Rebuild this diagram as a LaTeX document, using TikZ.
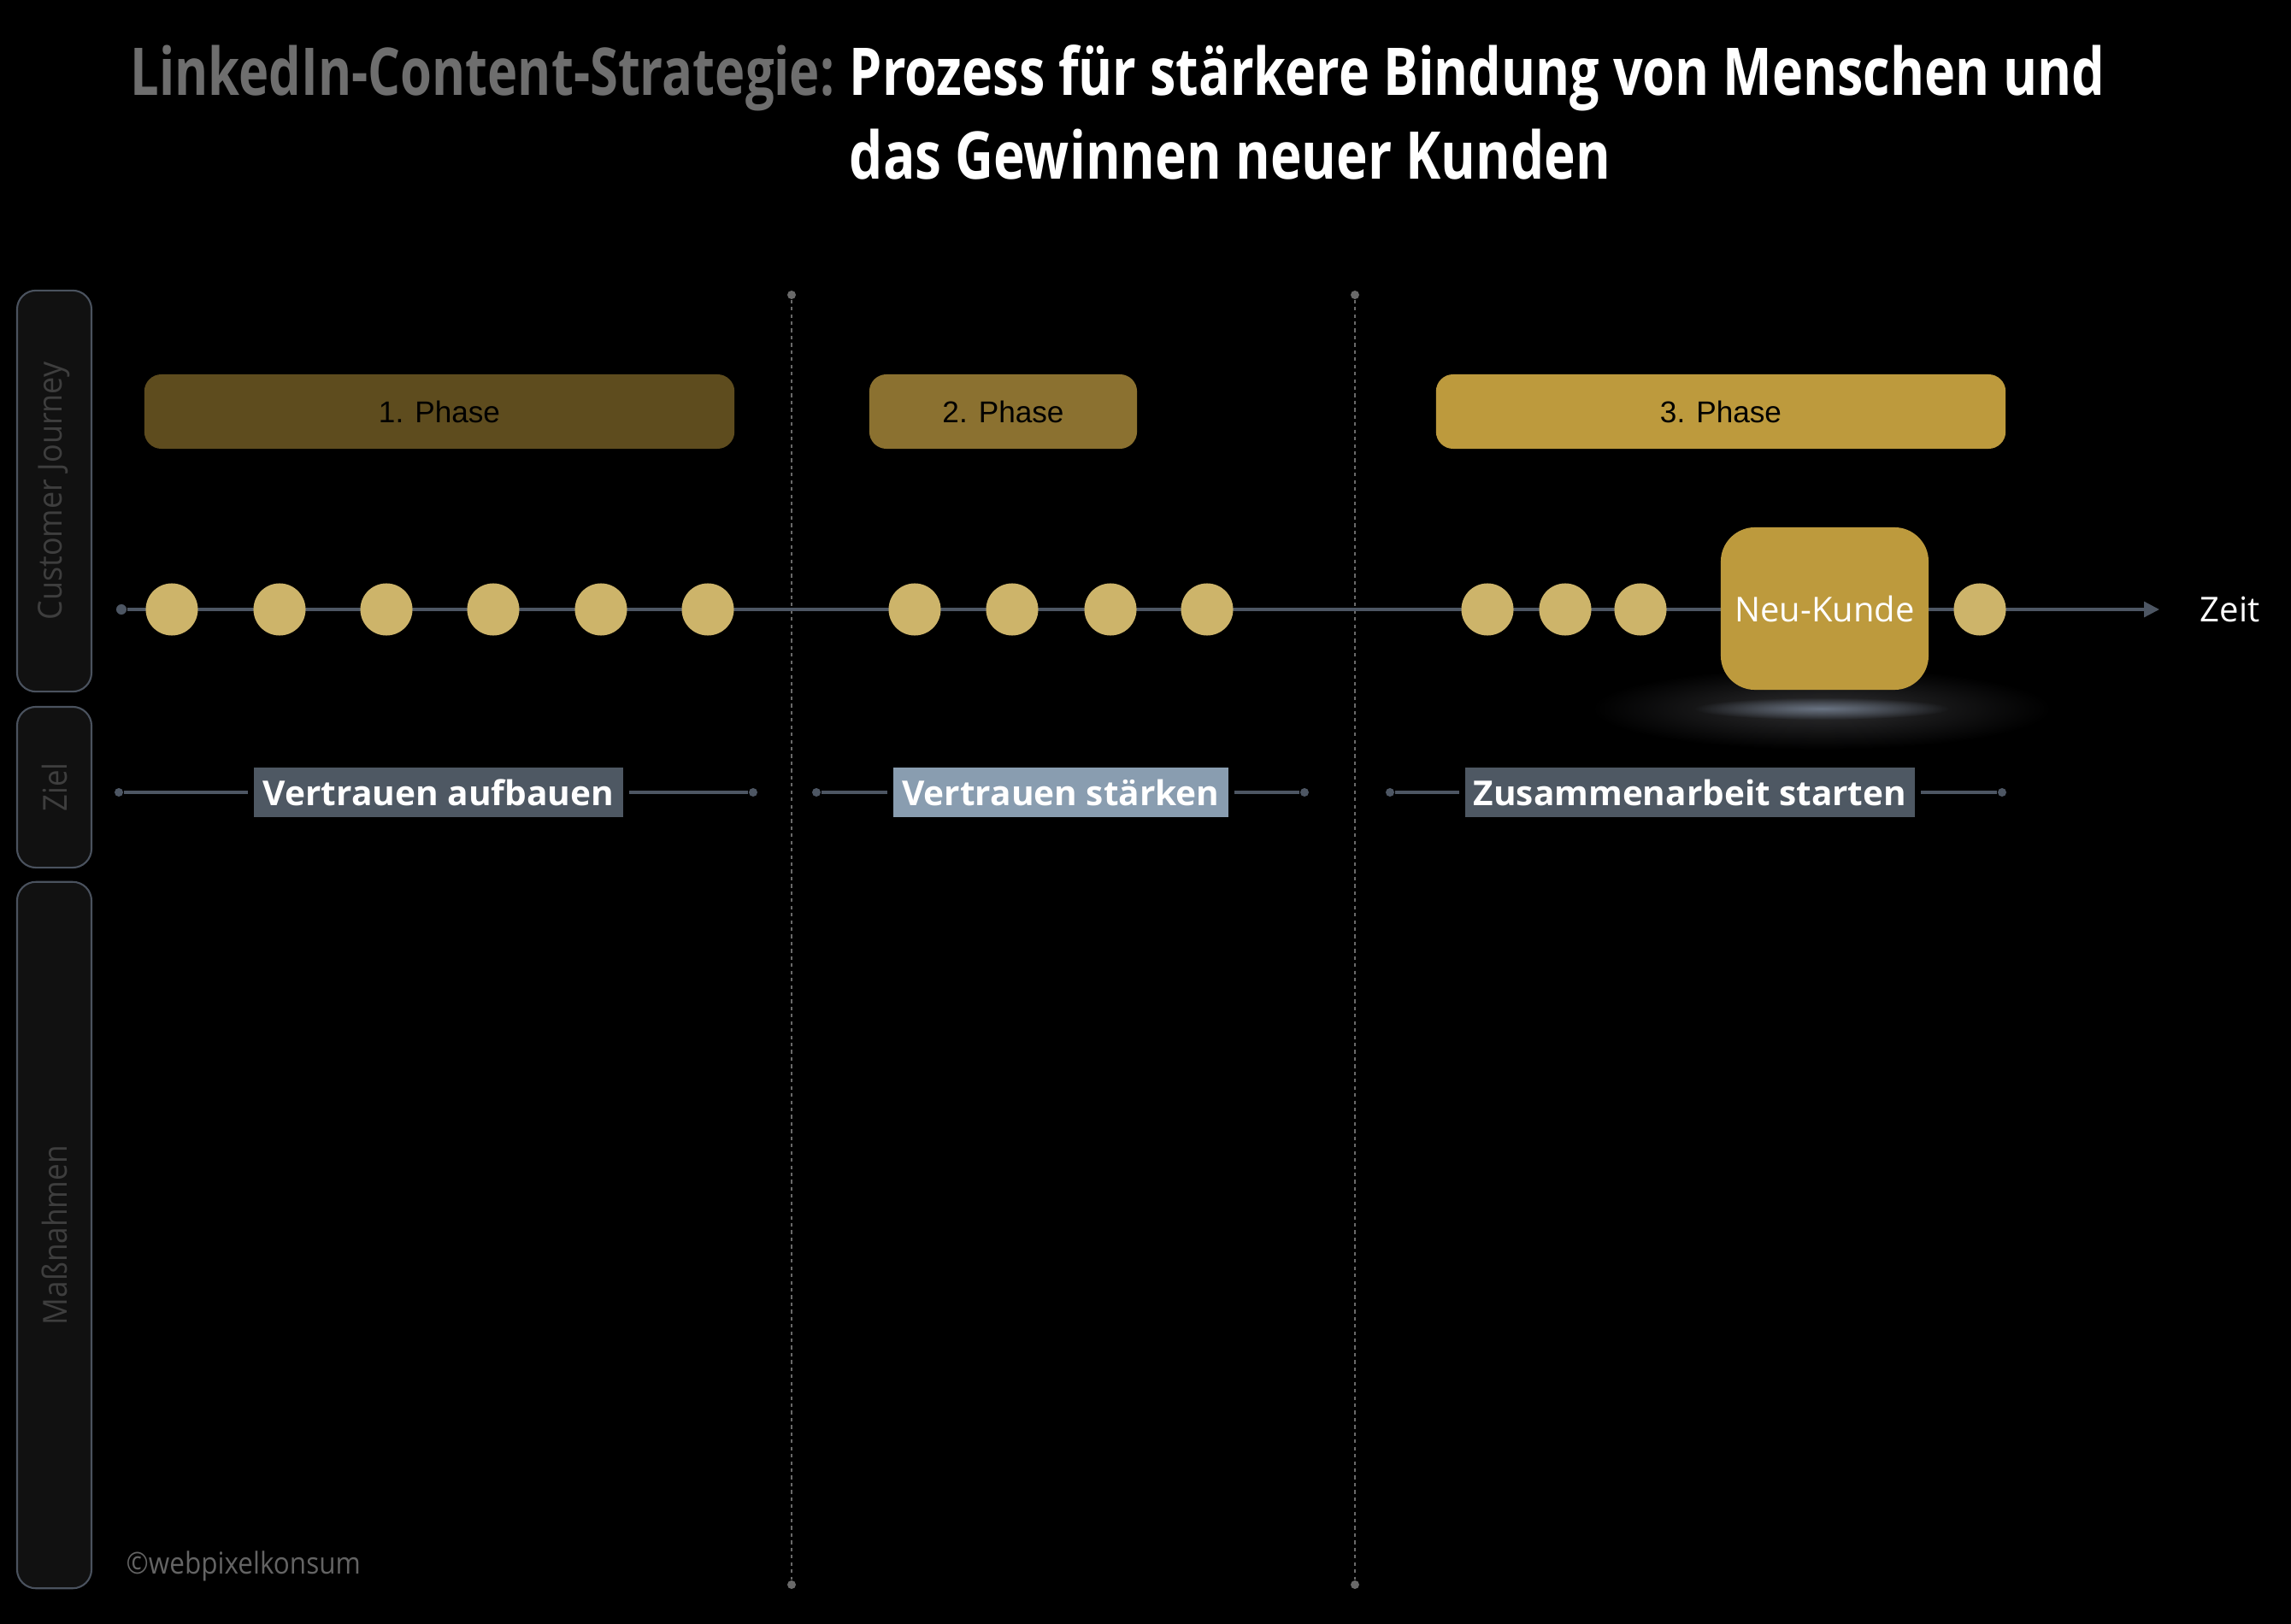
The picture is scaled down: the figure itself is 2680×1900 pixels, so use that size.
\documentclass[tikz,border=0pt]{standalone}
\usepackage{fontspec}
\usepackage{graphicx}
\setmainfont{Open Sans}
\newfontfamily\phasefont{Liberation Sans}
\usetikzlibrary{arrows.meta,fadings}
\definecolor{phaseA}{RGB}{94,76,30}
\definecolor{phaseB}{RGB}{139,113,48}
\definecolor{phaseC}{RGB}{189,154,61}
\definecolor{dotgold}{RGB}{205,180,106}
\definecolor{linegray}{RGB}{77,86,99}
\definecolor{goaldark}{RGB}{78,88,99}
\definecolor{goallight}{RGB}{137,157,176}
\definecolor{sidefill}{RGB}{17,17,17}
\definecolor{sideline}{RGB}{74,82,94}
\definecolor{sidetext}{RGB}{62,62,62}
\definecolor{vgray}{RGB}{105,105,105}
\definecolor{titlegray}{RGB}{110,110,110}
\definecolor{copygray}{RGB}{100,100,100}
\definecolor{glowgray}{RGB}{48,48,50}
\definecolor{glowblue}{RGB}{105,115,130}
\tikzfading[name=softglow,inner color=transparent!0,outer color=transparent!100]
\newcommand{\fitw}[2]{\resizebox{#1}{\height}{#2}}
\newcommand{\titlefont}{\bfseries\fontsize{21.9}{26}\selectfont}
\begin{document}
\begin{tikzpicture}[x=0.01cm,y=-0.01cm,
  phasebox/.style={rounded corners=0.2cm,minimum height=0.87cm,inner sep=0,font=\phasefont\fontsize{10}{12}\selectfont,text=black},
  stopdot/.style={circle,fill=dotgold,minimum size=0.61cm,inner sep=0},
  sidebox/.style={draw=sideline,line width=0.6pt,fill=sidefill,rounded corners=0.22cm,rotate=90,minimum height=0.87cm,inner sep=0,text=sidetext,font=\fontsize{11}{12}\selectfont},
  goalbox/.style={fill=goaldark,text=white,minimum height=0.57cm,inner sep=0,font=\bfseries\fontsize{11.4}{13}\selectfont},
  endpin/.style={circle,fill=linegray,inner sep=0,minimum size=0.1cm},
  tl/.style={linegray,line width=0.9pt}]
\fill[black] (0,0) rectangle (2680,1900);
% title
\node[anchor=base west,inner sep=0,text=titlegray,font=\titlefont] (tg) at (152,112) {\fitw{8.23cm}{LinkedIn-Content-Strategie:}};
\node[anchor=base west,inner sep=0,text=white,font=\titlefont] (tw1) at (993,112) {\fitw{14.68cm}{Prozess für stärkere Bindung von Menschen und}};
\node[anchor=base west,inner sep=0,text=white,font=\titlefont] (tw2) at (993,210) {\fitw{8.90cm}{das Gewinnen neuer Kunden}};
% rows
\node[sidebox,minimum width=4.69cm] (cj) at (63.5,574.5) {\fitw{3.02cm}{Customer Journey}};
\node[sidebox,minimum width=1.88cm] (zl) at (63.5,921) {\fitw{0.57cm}{Ziel}};
\node[sidebox,minimum width=8.26cm] (mn) at (63.5,1445) {\fitw{2.10cm}{Maßnahmen}};
% phase borders
\foreach \n/\x in {v1/926,v2/1585}{\node[endpin,fill=vgray] (\n t) at (\x,345){};\node[endpin,fill=vgray] (\n b) at (\x,1854){};\draw[vgray,line width=0.5pt,dash pattern=on 1.2pt off 1.2pt] (\n t) -- (\n b);}
\node[phasebox,fill=phaseA,minimum width=6.90cm] (p1) at (514,481.5) {1. Phase};
\node[phasebox,fill=phaseB,minimum width=3.13cm] (p2) at (1173.5,481.5) {2. Phase};
\node[phasebox,fill=phaseC,minimum width=6.66cm] (p3) at (2013,481.5) {3. Phase};
% time line
\node[endpin,minimum size=0.12cm] (t0) at (142,713){};
\coordinate (t1) at (2526,713);
\draw[tl,-{Triangle[length=0.18cm,width=0.18cm]}] (t0) -- (t1);
\node[anchor=west,inner sep=0,text=white,font=\fontsize{11.4}{13}\selectfont] (zeit) at (2573,713) {Zeit};
\foreach \n/\x in {a1/201,a2/327,a3/452,a4/577,a5/703,a6/828,b1/1070,b2/1184,b3/1299,b4/1412,c1/1740,c2/1831,c3/1919,c4/2316}{\node[stopdot] (\n) at (\x,713){};}
\fill[glowgray,path fading=softglow] (2131,829) ellipse (270 and 48);
\fill[glowblue,path fading=softglow] (2131,829) ellipse (150 and 13);
\node[fill=phaseC,rounded corners=0.4cm,minimum width=2.43cm,minimum height=1.9cm,inner sep=0,text=white,font=\fontsize{11.4}{13}\selectfont] (nk) at (2134.5,712) {\fitw{2.10cm}{Neu-Kunde}};
% goals
\node[goalbox,minimum width=4.32cm] (g1) at (513,927) {\fitw{4.10cm}{Vertrauen aufbauen}};
\node[goalbox,fill=goallight,minimum width=3.92cm] (g2) at (1241,927) {\fitw{3.71cm}{Vertrauen stärken}};
\node[goalbox,minimum width=5.26cm] (g3) at (1977,927) {\fitw{5.06cm}{Zusammenarbeit starten}};
\foreach \g/\l/\r in {g1/139/881,g2/955/1526,g3/1626/2342}{\node[endpin] (\g l) at (\l,927){};\node[endpin] (\g r) at (\r,927){};\draw[tl] (\g l) -- ([xshift=-0.06cm]\g.west);\draw[tl] ([xshift=0.06cm]\g.east) -- (\g r);}
\node[anchor=base west,inner sep=0,text=copygray,font=\fontsize{10}{12}\selectfont] (copy) at (147,1841) {\fitw{2.74cm}{©webpixelkonsum}};
\end{tikzpicture}
\end{document}
